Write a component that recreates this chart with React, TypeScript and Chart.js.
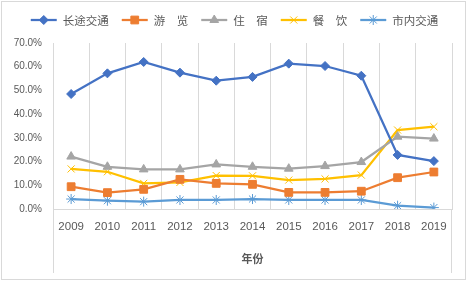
import React, { useEffect, useRef } from 'react';
import { Chart, registerables } from 'chart.js';
import { drawPoint } from 'chart.js/helpers';

Chart.register(...registerables);

const years = ['2009', '2010', '2011', '2012', '2013', '2014', '2015', '2016', '2017', '2018', '2019'];
const longDistance = [48.5, 57.2, 62.0, 57.5, 54.1, 55.7, 61.3, 60.3, 56.2, 22.8, 20.2];
const sightseeing = [9.4, 6.9, 8.3, 12.5, 10.8, 10.4, 7.0, 7.0, 7.5, 13.2, 15.6];
const lodging = [22.1, 17.8, 16.7, 16.7, 18.8, 17.8, 17.0, 18.1, 19.8, 30.5, 29.7];
const dining = [16.9, 15.7, 10.8, 11.2, 14.1, 14.0, 12.2, 12.7, 14.3, 33.3, 34.7];
const cityTransport = [4.2, 3.5, 3.1, 3.8, 3.8, 4.2, 3.8, 3.8, 3.8, 1.4, 0.6];
const seriesNames = ['长途交通', '游　览', '住　宿', '餐　饮', '市内交通'];
const seriesColors = ['#4472C4', '#ED7D31', '#A5A5A5', '#FFC000', '#5B9BD5'];
const seriesMarkers = ['rectRot', 'rect', 'triangle', 'crossRot', 'star'];
const markerSizes = [4.5, 5.5, 5, 5, 5];
const yMin = 0;
const yMax = 70;
const yStep = 10;
const xTitle = '年份';

const GRID = '#d9d9d9';
const TEXT = '#595959';
const CJK = '"Noto Sans CJK SC", "Liberation Sans", sans-serif';
const LATIN = '"Liberation Sans", Arial, sans-serif';

const framePlugin = {
  id: 'frame',
  beforeDraw(chart: any) {
    const { ctx, width, height } = chart;
    ctx.save();
    ctx.fillStyle = '#fff';
    ctx.fillRect(0, 0, width, height);
    ctx.strokeStyle = GRID;
    ctx.lineWidth = 1;
    ctx.strokeRect(1.5, 1.5, width - 5, height - 5);
    ctx.restore();
  },
  afterDraw(chart: any) {
    const { ctx, chartArea } = chart;
    ctx.save();
    ctx.strokeStyle = GRID;
    ctx.lineWidth = 1;
    ctx.beginPath();
    const l = Math.round(chartArea.left) + 0.5;
    const r = Math.round(chartArea.right) - 0.5;
    ctx.moveTo(l, chartArea.bottom);
    ctx.lineTo(l, chart.height - 10);
    ctx.moveTo(r, chartArea.bottom);
    ctx.lineTo(r, chart.height - 10);
    ctx.stroke();

    // legend
    ctx.font = `11.5px ${CJK}`;
    ctx.textBaseline = 'middle';
    const lineLen = 26;
    const gapText = 6;
    const gapItem = 13;
    const ds = chart.data.datasets;
    const widths = ds.map((d: any) => lineLen + gapText + ctx.measureText(d.label).width);
    const total = widths.reduce((a: number, b: number) => a + b, 0) + gapItem * (ds.length - 1);
    let x = (chart.width - total) / 2;
    const y = 20;
    ds.forEach((d: any, i: number) => {
      ctx.strokeStyle = d.borderColor;
      ctx.lineWidth = 2.25;
      ctx.beginPath();
      ctx.moveTo(x, y);
      ctx.lineTo(x + lineLen, y);
      ctx.stroke();
      ctx.fillStyle = d.pointBackgroundColor;
      ctx.strokeStyle = d.pointBorderColor;
      ctx.lineWidth = d.pointBorderWidth;
      drawPoint(ctx, { pointStyle: d.pointStyle, radius: d.pointRadius, rotation: 0, borderWidth: d.pointBorderWidth }, x + lineLen / 2, y);
      ctx.fillStyle = TEXT;
      ctx.textAlign = 'left';
      ctx.fillText(d.label, x + lineLen + gapText, y + 0.5);
      x += widths[i] + gapItem;
    });
    ctx.restore();
  },
};

export default function App() {
  const ref = useRef<HTMLCanvasElement>(null);
  useEffect(() => {
    document.body.style.margin = '0';
    const seriesData = [longDistance, sightseeing, lodging, dining, cityTransport];
    const chart = new Chart(ref.current as HTMLCanvasElement, {
      type: 'line',
      data: {
        labels: years,
        datasets: seriesData.map((arr, i) => ({
          label: seriesNames[i],
          data: arr,
          borderColor: seriesColors[i],
          backgroundColor: seriesColors[i],
          pointBackgroundColor: seriesColors[i],
          pointBorderColor: seriesColors[i],
          pointBorderWidth: 1,
          pointStyle: seriesMarkers[i],
          pointRadius: markerSizes[i],
          borderWidth: 2.25,
          tension: 0,
          fill: false,
        })),
      },
      options: {
        animation: false,
        responsive: false,
        devicePixelRatio: 1,
        layout: { padding: { left: 0, right: 17, top: 43, bottom: 0 } },
        plugins: { legend: { display: false }, tooltip: { enabled: false } },
        scales: {
          x: {
            offset: true,
            grid: { display: true, color: GRID, drawTicks: false, offset: true },
            border: { display: true, color: GRID },
            ticks: { color: TEXT, font: { family: LATIN, size: 11.5 }, padding: 11, maxRotation: 0 },
            title: { display: true, text: xTitle, color: TEXT, font: { family: CJK, size: 11, weight: 'bold' }, padding: { top: 0, bottom: 18 } },
            afterFit: (s: any) => { s.height = 74; },
          },
          y: {
            min: yMin,
            max: yMax,
            grid: { display: false, drawTicks: false },
            border: { display: false },
            ticks: {
              stepSize: yStep,
              color: TEXT,
              font: { family: LATIN, size: 10 },
              padding: 11,
              callback: (v: any) => Number(v).toFixed(1) + '%',
            },
            afterFit: (s: any) => { s.width = 53; },
          },
        },
      },
      plugins: [framePlugin],
    } as any);
    return () => chart.destroy();
  }, []);
  return <canvas ref={ref} width={469} height={283} style={{ display: 'block' }} />;
}
